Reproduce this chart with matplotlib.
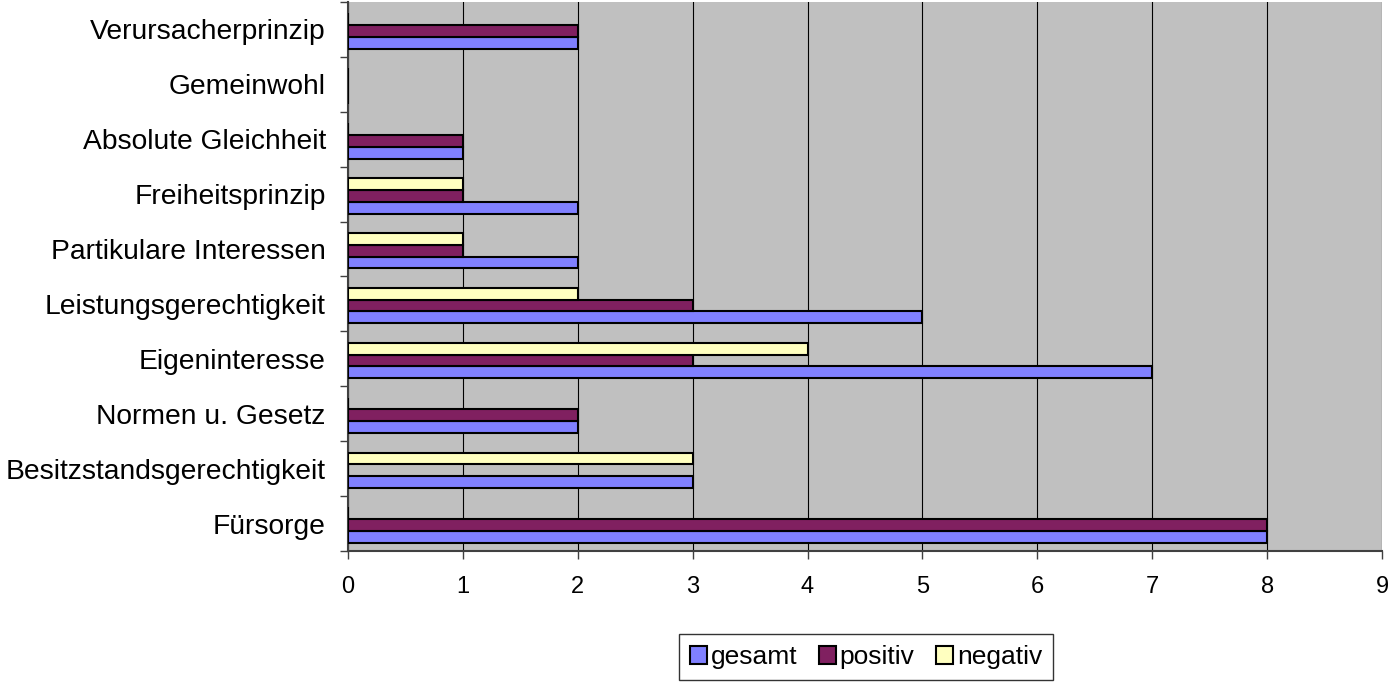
import numpy as np
import matplotlib
matplotlib.use("Agg")
import matplotlib.pyplot as plt
from matplotlib.ticker import MultipleLocator

plt.rcParams["font.family"] = ["Liberation Sans", "DejaVu Sans"]

categories = ["Fürsorge", "Besitzstandsgerechtigkeit", "Normen u. Gesetz",
              "Eigeninteresse", "Leistungsgerechtigkeit", "Partikulare Interessen",
              "Freiheitsprinzip", "Absolute Gleichheit", "Gemeinwohl",
              "Verursacherprinzip"]
gesamt = [8, 3, 2, 7, 5, 2, 2, 1, 0, 2]
positiv = [8, 0, 2, 3, 3, 1, 1, 1, 0, 2]
negativ = [0, 3, 0, 4, 2, 1, 1, 0, 0, 0]
series = [("gesamt", gesamt, "#8080FF"),
          ("positiv", positiv, "#802060"),
          ("negativ", negativ, "#FFFFC0")]

fig = plt.figure(figsize=(13.94, 6.84), dpi=100)
ax = fig.add_axes([348 / 1394, 1 - 551 / 684, (1382 - 348) / 1394, 549 / 684])
ax.set_facecolor("#C0C0C0")

y = np.arange(len(categories))
h = 0.215
for i, (name, vals, col) in enumerate(series):
    ax.barh(y - 0.03 + (i - 1) * h, vals, height=h, color=col,
            edgecolor="black", linewidth=1.5, label=name, zorder=3)

ax.set_xlim(0, 9)
ax.set_ylim(-0.5, len(categories) - 0.5)
ax.xaxis.set_major_locator(MultipleLocator(1))
ax.grid(axis="x", color="black", linewidth=0.8, zorder=1)
ax.set_axisbelow(True)

ax.set_yticks(y)
ax.set_yticklabels(categories, fontsize=20.3)
ax.set_yticks(np.arange(len(categories) + 1) - 0.5, minor=True)
ax.tick_params(axis="y", which="major", length=0, pad=16)
ax.tick_params(axis="y", which="minor", length=6, width=1, color="#404040")
ax.tick_params(axis="x", length=6, width=1, color="#404040", labelsize=17, pad=12)

for s in ["top", "right"]:
    ax.spines[s].set_visible(False)
for s in ["left", "bottom"]:
    ax.spines[s].set_color("#404040")
    ax.spines[s].set_linewidth(1.5)

leg = fig.legend(loc="center", bbox_to_anchor=(866 / 1394, 1 - 657 / 684),
                 ncol=3, fontsize=19, frameon=True, fancybox=False,
                 edgecolor="black", handlelength=0.65, handleheight=0.65,
                 handletextpad=0.15, columnspacing=0.8, borderpad=0.4)
leg.get_frame().set_linewidth(1.0)

fig.savefig("out.png", dpi=100)
